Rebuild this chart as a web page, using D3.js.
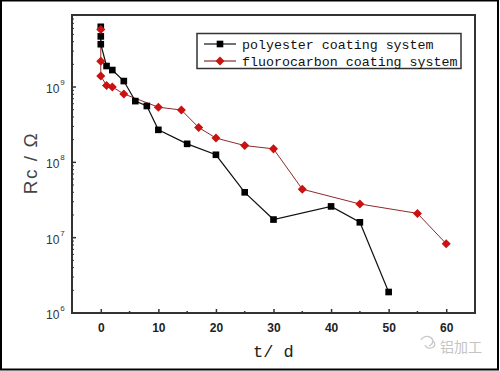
<!DOCTYPE html>
<html>
<head>
<meta charset="utf-8">
<script src="https://cdn.jsdelivr.net/npm/d3@7"></script>
<style>
  body { margin: 0; background: #fff; }
  svg { display: block; }
</style>
</head>
<body>
<svg id="chart" width="500" height="371"></svg>
<script>
// polyester coating system
const polyDays = [0, 0, 0, 1, 2, 4, 6, 8, 10, 15, 20, 25, 30, 40, 45, 50];
const polyRc = [6.3e9, 4.7e9, 3.7e9, 1.9e9, 1.68e9, 1.2e9, 6.5e8, 5.6e8, 2.7e8,
  1.76e8, 1.26e8, 4.0e7, 1.74e7, 2.6e7, 1.6e7, 1.9e6];

// fluorocarbon coating system
const fluoroDays = [0, 0, 0, 1, 2, 4, 10, 14, 17, 20, 25, 30, 35, 45, 55, 60];
const fluoroRc = [5.8e9, 2.2e9, 1.4e9, 1.05e9, 1.0e9, 8.1e8, 5.4e8, 4.95e8, 2.9e8,
  2.1e8, 1.67e8, 1.51e8, 4.4e7, 2.8e7, 2.1e7, 8.3e6];

const xTicks = [0, 10, 20, 30, 40, 50, 60];
const xMinorTicks = [5, 15, 25, 35, 45, 55];
const yTicks = [1e6, 1e7, 1e8, 1e9];
const seriesNames = ['polyester coating system', 'fluorocarbon coating system'];

(() => {
  const svg = d3.select('#chart'),
      left = 72, top = 15, right = 475, bottom = 313;

  // outer picture frame
  svg.append('rect')
      .attr('x', 1).attr('y', 0.5)
      .attr('width', 497).attr('height', 369)
      .attr('fill', 'none')
      .attr('stroke', '#000')
      .attr('stroke-width', 2);

  const x = d3.scaleLinear().domain([-5, 65]).range([left, right]);
  const y = d3.scaleLog().domain([1e6, Math.pow(10, 9.956)]).range([bottom, top]);

  // x axis ticks (inward)
  const xAxis = svg.append('g').attr('transform', `translate(0,${bottom})`);
  xAxis.call(d3.axisBottom(x).tickValues(xTicks).tickSizeInner(-4).tickSizeOuter(0)
      .tickPadding(10))
      .call(g => g.select('.domain').remove());
  xAxis.selectAll('text')
      .attr('font-family', 'Liberation Sans, Arial, sans-serif')
      .attr('font-size', 12)
      .attr('font-weight', 'bold')
      .attr('fill', '#222');
  xAxis.selectAll('line').attr('stroke', '#333').attr('stroke-width', 1.5);
  xAxis.selectAll('.minor')
      .data(xMinorTicks)
      .enter().append('line')
      .attr('x1', d => x(d)).attr('x2', d => x(d))
      .attr('y1', 0).attr('y2', -2)
      .attr('stroke', '#333').attr('stroke-width', 1.5);

  // y axis ticks (inward), major + minor
  const minor = [];
  for (let e = 6; e < 10; e++) {
    for (let k = 2; k <= 9; k++) {
      const v = k * Math.pow(10, e);
      if (v < y.domain()[1]) minor.push(v);
    }
  }
  const yAxis = svg.append('g').attr('transform', `translate(${left},0)`);
  yAxis.selectAll('.major')
      .data(yTicks)
      .enter().append('line')
      .attr('x1', 0).attr('x2', 4)
      .attr('y1', d => y(d)).attr('y2', d => y(d))
      .attr('stroke', '#333').attr('stroke-width', 1.5);
  yAxis.selectAll('.minor')
      .data(minor)
      .enter().append('line')
      .attr('x1', 0).attr('x2', 2)
      .attr('y1', d => y(d)).attr('y2', d => y(d))
      .attr('stroke', '#333').attr('stroke-width', 1);

  const yLab = svg.append('g').selectAll('text')
      .data(yTicks)
      .enter().append('text')
      .attr('x', 46)
      .attr('y', d => y(d) + 6)
      .attr('font-family', 'Liberation Sans, Arial, sans-serif')
      .attr('font-size', 12)
      .attr('fill', '#333');
  yLab.append('tspan').text('10');
  yLab.append('tspan')
      .attr('dy', -8)
      .attr('dx', 1)
      .attr('font-size', 8)
      .text(d => Math.round(Math.log10(d)));

  // plot frame
  svg.append('rect')
      .attr('x', left).attr('y', top)
      .attr('width', right - left).attr('height', bottom - top)
      .attr('fill', 'none')
      .attr('stroke', '#333')
      .attr('stroke-width', 2);

  // series
  const poly = polyDays.map((d, i) => [d, polyRc[i]]);
  const fluoro = fluoroDays.map((d, i) => [d, fluoroRc[i]]);
  const line = d3.line().x(d => x(d[0])).y(d => y(d[1]));

  svg.append('path')
      .datum(fluoro)
      .attr('d', line)
      .attr('fill', 'none')
      .attr('stroke', '#8e2a2a')
      .attr('stroke-width', 1);

  svg.append('path')
      .datum(poly)
      .attr('d', line)
      .attr('fill', 'none')
      .attr('stroke', '#111')
      .attr('stroke-width', 1.2);

  const diamond = d3.symbol().type(d3.symbolDiamond2).size(52);
  const square = d3.symbol().type(d3.symbolSquare).size(44);

  svg.append('g').selectAll('path')
      .data(poly)
      .enter().append('path')
      .attr('transform', d => `translate(${x(d[0])},${y(d[1])})`)
      .attr('d', square)
      .attr('fill', '#000');

  svg.append('g').selectAll('path')
      .data(fluoro)
      .enter().append('path')
      .attr('transform', d => `translate(${x(d[0])},${y(d[1])})`)
      .attr('d', diamond)
      .attr('fill', '#cc1111');

  // legend
  const legend = svg.append('g');
  legend.append('rect')
      .attr('x', 197).attr('y', 33.5)
      .attr('width', 264).attr('height', 35)
      .attr('fill', '#fff')
      .attr('stroke', '#333')
      .attr('stroke-width', 1.5);
  const items = legend.selectAll('g')
      .data(seriesNames)
      .enter().append('g')
      .attr('transform', (d, i) => `translate(0,${44 + i * 17})`);
  items.append('line')
      .attr('x1', 204).attr('x2', 236)
      .attr('stroke', (d, i) => i === 0 ? '#111' : '#8e2a2a')
      .attr('stroke-width', 1.2);
  items.append('path')
      .attr('transform', 'translate(220,0)')
      .attr('d', (d, i) => i === 0 ? square() : diamond())
      .attr('fill', (d, i) => i === 0 ? '#000' : '#cc1111');
  items.append('text')
      .attr('x', 242)
      .attr('y', 4.5)
      .attr('font-family', 'Liberation Mono, Courier New, monospace')
      .attr('font-size', 13.3)
      .attr('fill', '#111')
      .text(d => d);

  // axis titles
  svg.append('text')
      .attr('transform', 'translate(37,163) rotate(-90)')
      .attr('text-anchor', 'middle')
      .attr('font-family', 'Liberation Sans, Arial, sans-serif')
      .attr('font-size', 19)
      .attr('letter-spacing', 1.5)
      .attr('fill', '#444')
      .text('Rc / Ω');

  svg.append('text')
      .attr('x', 253)
      .attr('y', 357)
      .attr('font-family', 'Liberation Mono, Courier New, monospace')
      .attr('font-size', 17)
      .attr('fill', '#222')
      .text('t/ d');

  // watermark
  const wm = svg.append('g').attr('fill', 'none').attr('stroke', '#c8c8c8').attr('stroke-width', 1.3);
  wm.append('path').attr('d', 'M421,340 a6,5 0 1,1 8,6');
  wm.append('path').attr('d', 'M425,345 a5,4 0 1,0 8,-4');
  svg.append('text')
      .attr('x', 440)
      .attr('y', 352)
      .attr('font-family', 'Noto Sans CJK SC, sans-serif')
      .attr('font-size', 14)
      .attr('fill', '#c4c4c4')
      .text('铝加工');
})();
</script>
</body>
</html>
